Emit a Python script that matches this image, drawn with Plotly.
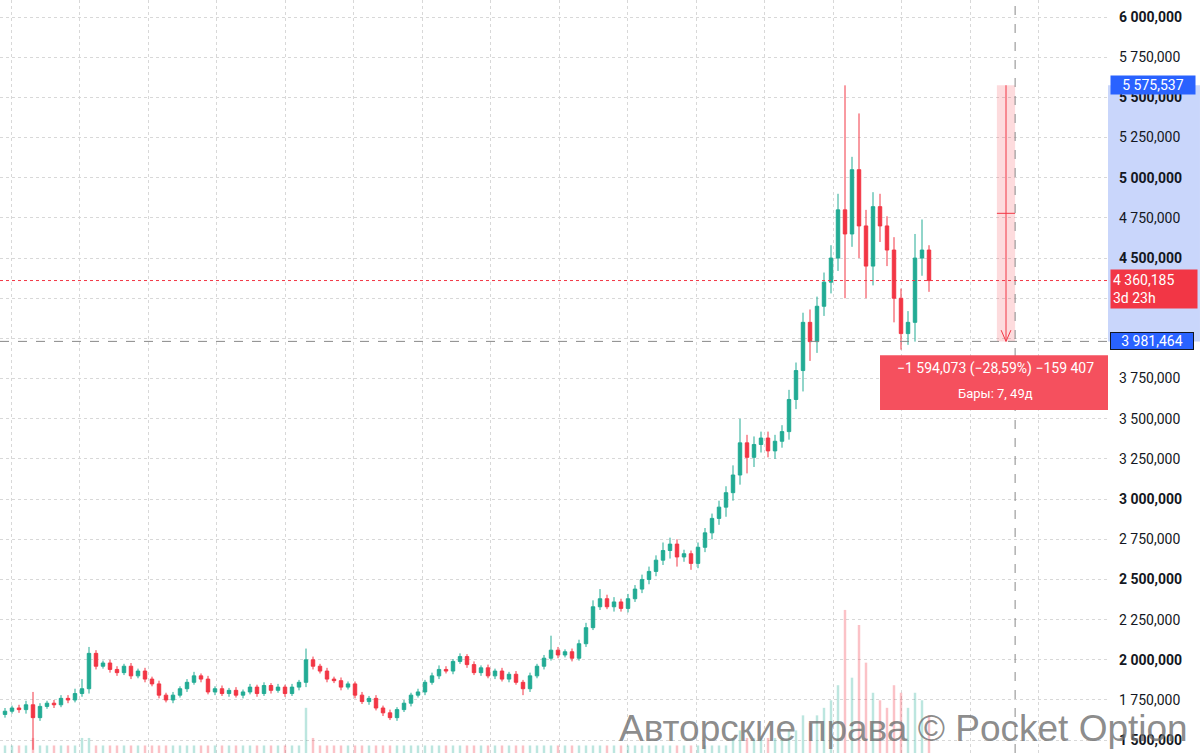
import plotly.graph_objects as go

# closes in thousands
closes = [1680,1700,1690,1720,1640,1710,1730,1720,1760,1750,1790,1820,2040,1960,1980,1940,1920,1960,1900,1930,
          1880,1850,1780,1750,1780,1820,1860,1900,1880,1800,1820,1790,1810,1780,1800,1830,1790,1840,1810,1830,
          1790,1830,1860,2000,1960,1930,1880,1870,1830,1850,1780,1740,1760,1700,1670,1640,1690,1730,1780,1800,
          1860,1900,1940,1930,1990,2020,1970,1920,1950,1900,1930,1880,1910,1860,1820,1900,1960,2010,2060,2030,
          2050,2010,2100,2200,2330,2380,2330,2360,2320,2380,2440,2500,2550,2620,2680,2720,2640,2660,2600,2700,
          2790,2880,2950,3040,3150,3350,3260,3340,3380,3300,3360,3420,3620,3800,4100,3980,4200,4350,4500,4800,
          4650,5050,4700,4450,4820,4700,4550,4250,4030,4100,4500,4550,4360]
first_open = 1660
wick_up = [20,15,20,25,80,20,15,20,20,20,30,60,40,20,15,20,20,15,20,15,
           20,15,20,15,20,15,20,25,15,20,15,20,15,20,15,20,15,20,15,20,
           15,20,15,70,20,15,20,15,20,15,15,20,15,20,15,20,15,20,15,20,
           15,20,25,20,15,20,15,20,15,20,15,20,15,20,15,20,15,20,90,20,
           15,20,25,30,40,60,25,30,20,30,25,30,30,30,50,40,30,25,20,30,
           30,30,40,40,60,150,50,50,40,40,40,40,60,50,60,80,60,60,80,100,
           775,80,350,100,90,80,60,80,60,70,150,190,30]
wick_dn = [20,15,20,25,200,20,15,20,15,20,15,20,30,20,15,20,20,15,20,15,
           20,15,20,15,20,15,20,15,20,15,20,15,20,15,20,15,20,15,20,15,
           20,15,20,30,20,15,20,15,20,15,20,15,20,15,20,15,20,15,20,15,
           20,15,20,15,20,15,20,15,20,15,20,15,20,15,40,20,15,20,15,20,
           15,20,15,20,15,20,15,30,20,25,20,25,30,30,30,50,60,30,40,30,
           30,40,40,60,50,60,100,60,50,40,50,40,50,60,130,120,70,60,70,80,
           400,80,200,200,120,100,100,150,100,70,120,110,70]
volume = [1,1,1,1,2,1,1,1,1,1,1,2,2,1,1,1,1,1,1,1,
          1,1,1,1,1,1,1,1,1,1,1,1,1,1,1,1,1,1,1,1,
          1,1,1,6,2,1,1,1,1,1,1,1,1,1,1,1,1,1,1,1,
          1,1,1,1,1,1,1,1,1,1,1,1,1,1,1,1,1,1,1,1,
          1,1,1,1,1,1,1,1,1,1,1,1,1,1,1,1,1,1,1,1,
          1,1,1,1,2,3,2,2,2,2,2,2,3,3,5,4,5,6,7,9,
          19,10,17,12,8,7,6,9,8,6,8,7,5]

opens = [first_open] + closes[:-1]
highs = [max(o, c) + w for o, c, w in zip(opens, closes, wick_up)]
lows = [min(o, c) - w for o, c, w in zip(opens, closes, wick_dn)]
K = 1000
O = [v * K for v in opens]; C = [v * K for v in closes]
H = [v * K for v in highs]; L = [v * K for v in lows]
idx = list(range(len(closes)))

UP, DN = "#22ab94", "#f23645"
vcol = ["rgba(34,171,148,0.3)" if c >= o else "rgba(242,54,69,0.3)" for o, c in zip(opens, closes)]

def fmt(v):
    s = f"{int(round(v)):,}"
    head, tail = s.rsplit(",", 1)
    return head.replace(",", " ") + "," + tail

fig = go.Figure()
fig.add_trace(go.Bar(x=idx, y=volume, marker_color=vcol, marker_line_width=0, yaxis="y2", width=0.35, hoverinfo="skip"))
fig.add_trace(go.Candlestick(x=idx, open=O, high=H, low=L, close=C, whiskerwidth=0,
                             increasing=dict(line=dict(color=UP, width=1), fillcolor=UP),
                             decreasing=dict(line=dict(color=DN, width=1), fillcolor=DN)))

tickvals = [1500000 + 250000 * k for k in range(19)]
bold = {6000000, 5500000, 5000000, 4500000, 3000000, 2500000, 2000000, 1500000}
ticktext = [("<b>%s</b>" % fmt(v)) if v in bold else fmt(v) for v in tickvals]

top, bot, last = 5575537, 3981464, 4360185
xr = [-0.714, 157.57]
shapes = [
    dict(type="rect", xref="paper", x0=1, x1=1.083, yref="y", y0=bot, y1=top, fillcolor="#c9d6fb", line_width=0, layer="below"),
    dict(type="rect", x0=141.7, x1=144.3, y0=bot, y1=top, fillcolor="rgba(242,54,69,0.18)", line_width=0),
    dict(type="line", x0=143.0, x1=143.0, y0=top, y1=bot, line=dict(color=DN, width=1)),
    dict(type="line", x0=141.7, x1=144.3, y0=(top + bot) / 2, y1=(top + bot) / 2, line=dict(color=DN, width=1)),
    dict(type="line", x0=142.3, x1=143.0, y0=bot + 70000, y1=bot, line=dict(color=DN, width=1)),
    dict(type="line", x0=143.7, x1=143.0, y0=bot + 70000, y1=bot, line=dict(color=DN, width=1)),
    dict(type="line", x0=144.3, x1=144.3, yref="paper", y0=0, y1=1, line=dict(color="#888", width=1, dash="dash")),
    dict(type="line", xref="paper", x0=0, x1=1, y0=bot, y1=bot, line=dict(color="#888", width=1, dash="dash")),
    dict(type="line", xref="paper", x0=0, x1=1, y0=last, y1=last, line=dict(color=DN, width=1, dash="dot")),
    dict(type="rect", x0=125.0, x1=xr[1], y0=3554000, y1=3896000, fillcolor="#f5505e", line_width=0),
]
ann = [
    dict(xref="paper", x=1.002, y=top, text="5 575,537", showarrow=False, xanchor="left", bgcolor="#2962ff",
         font=dict(color="white", size=14), borderpad=1, width=82),
    dict(xref="paper", x=1.002, y=last - 50000, text="4 360,185<br>3d 23h", showarrow=False, xanchor="left", align="left",
         bgcolor="#f23645", font=dict(color="white", size=14), borderpad=2, width=82),
    dict(xref="paper", x=1.002, y=bot, text="3 981,464", showarrow=False, xanchor="left", bgcolor="#2962ff",
         bordercolor="#131722", borderwidth=1, font=dict(color="white", size=14), borderpad=0, width=82),
    dict(x=141.5, y=3810000, text="−1 594,073 (−28,59%) −159 407", showarrow=False, font=dict(color="white", size=14)),
    dict(x=141.5, y=3660000, text="Бары: 7, 49д", showarrow=False, font=dict(color="white", size=13)),
    dict(xref="paper", yref="paper", x=1.074, y=0.002, xanchor="right", yanchor="bottom",
         text="Авторские права © Pocket Option", showarrow=False,
         font=dict(family="Liberation Sans", color="rgba(110,110,110,0.8)", size=37)),
]

fig.update_layout(
    width=1200, height=753, margin=dict(l=0, r=92, t=0, b=0, autoexpand=False),
    paper_bgcolor="white", plot_bgcolor="white", showlegend=False,
    font=dict(family="Roboto", color="#131722"),
    xaxis=dict(range=xr, rangeslider=dict(visible=False), showticklabels=False, tick0=0.857, dtick=9.786,
               showgrid=True, gridcolor="#d8d8d8", griddash="dot", zeroline=False, showline=False),
    yaxis=dict(side="right", range=[1420000, 6106000], tickvals=tickvals, ticktext=ticktext,
               showgrid=True, gridcolor="#d8d8d8", griddash="dot", zeroline=False, tickfont=dict(size=14),
               ticks="", ticklabelstandoff=10),
    yaxis2=dict(overlaying="y", range=[0, 100], visible=False),
    shapes=shapes, annotations=ann, bargap=0.5,
)
fig.write_html("out.html", config={"displayModeBar": False}, post_script="document.body.style.margin='0';")
